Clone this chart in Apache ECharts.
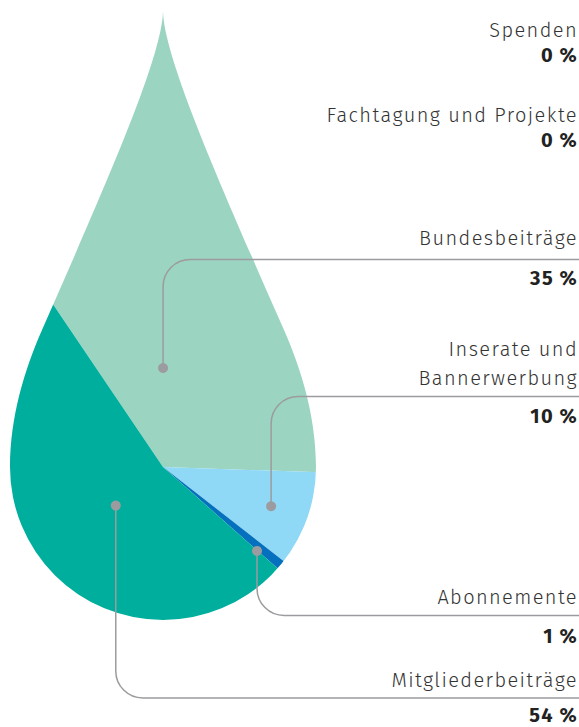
<!DOCTYPE html>
<html><head><meta charset="utf-8">
<script src="https://cdn.jsdelivr.net/npm/echarts@6/dist/echarts.min.js"></script>
<style>html,body{margin:0;padding:0;background:#fff}#c{width:579px;height:727px}#c text{letter-spacing:1.4px}</style>
</head><body><div id="c"></div>
<script>
// ---- data ----
const categories = ['Spenden', 'Fachtagung und Projekte', 'Bundesbeiträge', 'Inserate und\nBannerwerbung', 'Abonnemente', 'Mitgliederbeiträge'];
const shares = [0, 0, 35, 10, 1, 54];
const colors = ['#9bd4c1', '#9bd4c1', '#9bd4c1', '#8fd8f6', '#0570bd', '#00ae9e'];

// ---- layout ----
const CX = 163, CY = 467;          // pie centre (centre of the drop's round part)
const START_ANGLE = 124.06;        // echarts degrees
const TEXT_RIGHT = 578, LINE_RIGHT = 579;
const nameBaselines = [[37], [122], [245], [356, 385], [604], [687]];
const valueBaselines = [62, 147, 285, 423, 643, 722];
const leaderY = [null, null, 259.5, 396.5, 615.5, 698];
const anchorRadius = [null, null, 99, 115, 126, 61];
const anchorShift = [0, 0, -28.9, 0, 2, 2];
const CORNER = 27, DOT_R = 5, GREY = '#9c9b9f';
const BASE_OFF = 7.3;

const dropPath = 'M163 10 C163 55 218 180 284 330 C301.6 370 316 417 316 467 ' +
  'A153 153 0 0 1 10 467 C10 417 24.4 370 42 330 C108 180 163 55 163 10 Z';
const maskPath = 'M-10 -10 L-10 740 L590 740 L590 -10 Z ' + dropPath;

const total = shares.reduce((a, b) => a + b, 0);
const startTop = 90 - START_ANGLE; // clockwise from top
const midAngles = [];
let cum = 0;
shares.forEach(v => { midAngles.push(startTop + 360 * (cum + v / 2) / total); cum += v; });

function leader(x, y, ly) {
  const R = CORNER;
  if (ly < y) return `M${x} ${y} L${x} ${ly + R} A${R} ${R} 0 0 1 ${x + R} ${ly} L${LINE_RIGHT} ${ly}`;
  return `M${x} ${y} L${x} ${ly - R} A${R} ${R} 0 0 0 ${x + R} ${ly} L${LINE_RIGHT} ${ly}`;
}

const FONT = '"Fira Sans", "Open Sans", "Noto Sans", sans-serif';

const chart = echarts.init(document.getElementById('c'), null, { renderer: 'svg' });
chart.setOption({
  animation: false,
  backgroundColor: '#fff',
  series: [
    {
      type: 'pie', z: 1, silent: true,
      center: [CX, CY], radius: 480,
      startAngle: START_ANGLE, clockwise: true,
      label: { show: false }, labelLine: { show: false },
      emphasis: { disabled: true },
      data: categories.map((n, i) => ({ name: n, value: shares[i], itemStyle: { color: colors[i] } }))
    },
    {
      type: 'custom', z: 5, silent: true, coordinateSystem: 'none',
      data: [[0]],
      renderItem: () => ({ type: 'path', shape: { pathData: maskPath }, style: { fill: '#fff', stroke: null } })
    },
    {
      type: 'custom', z: 10, silent: true, coordinateSystem: 'none',
      data: categories.map((n, i) => [i]),
      renderItem: (params) => {
        const i = params.dataIndex;
        const children = [];
        if (leaderY[i] != null) {
          const a = (midAngles[i] + anchorShift[i]) * Math.PI / 180;
          const x = CX + anchorRadius[i] * Math.sin(a);
          const y = CY - anchorRadius[i] * Math.cos(a);
          children.push({ type: 'path', shape: { pathData: leader(x, y, leaderY[i]) }, style: { fill: null, stroke: GREY, lineWidth: 1.5 } });
          children.push({ type: 'circle', shape: { cx: x, cy: y, r: DOT_R }, style: { fill: GREY } });
        }
        const nb = nameBaselines[i];
        const mid = nb.reduce((a, b) => a + b, 0) / nb.length - BASE_OFF;
        children.push({ type: 'text', style: {
          text: categories[i], x: TEXT_RIGHT, y: mid, align: 'right', verticalAlign: 'middle',
          fontFamily: FONT, fontSize: 20, fontWeight: 300, lineHeight: 29, fill: '#333' } });
        children.push({ type: 'text', style: {
          text: shares[i] + '\u2009%', x: TEXT_RIGHT, y: valueBaselines[i] - BASE_OFF, align: 'right', verticalAlign: 'middle',
          fontFamily: FONT, fontSize: 20, fontWeight: 700, lineHeight: 16, fill: '#222' } });
        return { type: 'group', children };
      }
    }
  ]
});
</script></body></html>
